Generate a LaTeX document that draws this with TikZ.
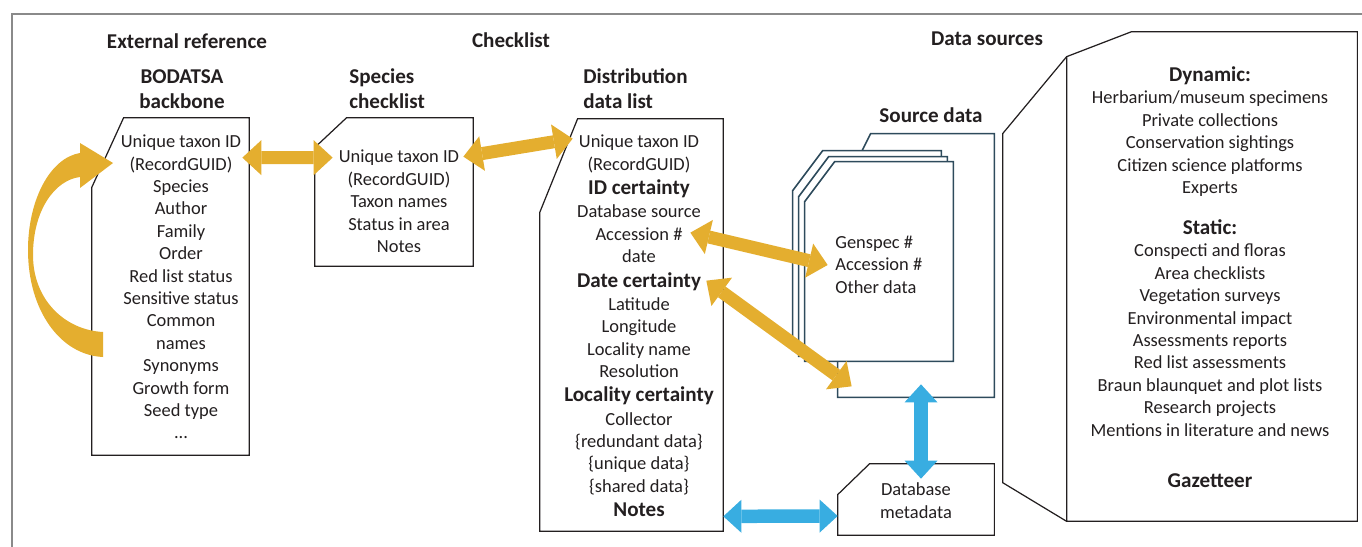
\documentclass[tikz,border=0pt]{standalone}
\usepackage{fontspec}
\setmainfont{Carlito}
\usepackage{tikz}
\usetikzlibrary{arrows.meta, calc, fit}

\definecolor{gold}{HTML}{E4AE2F}
\definecolor{skyblue}{HTML}{38ADE1}
\definecolor{slate}{HTML}{2E4B5C}
\definecolor{framegray}{HTML}{8A8A8A}
\definecolor{ink}{HTML}{231F20}

\tikzset{
  boxline/.style={draw=ink, line width=0.7pt, fill=white},
  pageline/.style={draw=slate, line width=0.9pt, fill=white},
  txt/.style={font=\fontsize{10.5}{12.75}\selectfont, text=ink, align=center, inner sep=0pt},
  hd/.style={font=\fontsize{12}{14.3}\selectfont\bfseries, text=ink, inner sep=0pt},
  goldarr/.style={draw=gold, line width=0.26cm,
    {Triangle[length=0.38cm,width=0.7cm,line width=0pt]}-{Triangle[length=0.38cm,width=0.7cm,line width=0pt]}},
  bluearr/.style={draw=skyblue, line width=0.27cm,
    {Triangle[length=0.36cm,width=0.66cm,line width=0pt]}-{Triangle[length=0.36cm,width=0.66cm,line width=0pt]}}
}

% box with the top left corner cut off: style, name, nw, se, cut dx, cut dy
\newcommand\cutbox[6][boxline]{%
  \node[fit={#3 #4}, inner sep=0pt] (#2) {};
  \draw[#1] (#2.south west) -- ($(#2.north west)+(0,#6)$) -- ($(#2.north west)+(#5,0)$)
    -- (#2.north east) -- (#2.south east) -- cycle;}

\newcommand\bitem[1]{{\fontsize{12}{12.75}\selectfont\bfseries #1}}

\begin{document}
\begin{tikzpicture}[x=0.02cm, y=-0.02cm]
\useasboundingbox (0,0) rectangle (1362,547);
\draw[framegray, line width=1.1pt] (12,547) -- (12,14) -- (1362,14);

% headings
\node[hd] (exthd) at (187,41) {External reference};
\node[hd] (chkhd) at (511,40) {Checklist};
\node[hd] (srchd) at (987,39) {Data sources};
\node[hd, align=center] (bodhd) at (182,89) {BODATSA\\backbone};
\node[hd, align=left, anchor=west] (spchd) at (349,89) {Species\\checklist};
\node[hd, align=left, anchor=west] (disthd) at (583,89) {Distribution\\data list};
\node[hd] (srcdhd) at (931,115) {Source data};

% boxes
\cutbox{bod}{(92,118)}{(249,455)}{32}{70}
\cutbox{spc}{(315,118)}{(473,266)}{32}{30}
\cutbox{dist}{(540,119)}{(723,531)}{38}{94}
\cutbox[pageline]{src}{(838,134)}{(994,397)}{33}{66}
\cutbox[pageline]{pg1}{(793,151)}{(941,350)}{30}{40}
\cutbox[pageline]{pg2}{(799,157)}{(947,356)}{30}{40}
\cutbox[pageline]{pg3}{(805,162)}{(953,361)}{30}{40}
\cutbox{dbm}{(838,464)}{(994,535)}{32}{31}
\cutbox{dsrc}{(1067,32)}{(1357,521)}{65}{25}
\draw[boxline, fill=none] ($(dsrc.north west)+(0,25)$) -- ++(-64,77) -- ++(0,349) -- (dsrc.south west);

% box contents
\node[txt] (bodlist) at (181,287) {Unique taxon ID\\(RecordGUID)\\Species\\Author\\Family\\Order\\Red list status\\Sensitive status\\Common\\names\\Synonyms\\Growth form\\Seed type\\...};
\node[txt] (spclist) at (399,201.5) {Unique taxon ID\\(RecordGUID)\\Taxon names\\Status in area\\Notes};
\node[txt] (distlist) at (639,326) {Unique taxon ID\\(RecordGUID)\\[1.2pt]\bitem{ID certainty}\\[0.4pt]Database source\\Accession \#\\date\\[1.2pt]\bitem{Date certainty}\\[0.4pt]Latitude\\Longitude\\Locality name\\Resolution\\[1.2pt]\bitem{Locality certainty}\\[0.4pt]Collector\\\{redundant data\}\\\{unique data\}\\\{shared data\}\\[1.2pt]\bitem{Notes}};
\node[txt, align=left, anchor=west] (genlist) at (835,264.5) {Genspec \#\\Accession \#\\Other data};
\node[txt] (dbmlist) at (916,500.5) {Database\\metadata};
\node[txt] (dsrclist) at (1210,277) {\bitem{Dynamic:}\\Herbarium/museum specimens\\Private collections\\Conservation sightings\\Citizen science platforms\\Experts\\[10.5pt]\bitem{Static:}\\Conspecti and floras\\Area checklists\\Vegetation surveys\\Environmental impact\\Assessments reports\\Red list assessments\\Braun blaunquet and plot lists\\Research projects\\Mentions in literature and news\\[16.3pt]\bitem{Gazetteer}};

% links
\fill[gold] (80,153) .. controls (50,158) and (28,200) .. (28,250)
  .. controls (28,310) and (60,355) .. (103,357) -- (103,332)
  .. controls (65,330) and (33,300) .. (33,255)
  .. controls (33,210) and (55,180) .. (80,177)
  -- (80,188) -- (113,163) -- (80,143) -- cycle;
\draw[goldarr] ($(bod.north east)+(-7,40)$) -- ($(spc.north west)+(18,40)$);
\draw[goldarr] ($(spc.north east)+(-10,39)$) -- ($(dist.north west)+(33,20)$);
\draw[goldarr] ($(dist.north east)+(-33,114)$) -- ($(pg3.west)+(23,3.5)$);
\draw[goldarr] ($(dist.north east)+(-17,162)$) -- ($(src.south west)+(14,-11)$);
\draw[bluearr] ($(src.south)+(5,-13)$) -- ($(dbm.north)+(5,15)$);
\draw[bluearr] ($(dist.south east)+(0,-15)$) -- ($(dbm.west)+(0,16.5)$);
\end{tikzpicture}
\end{document}
